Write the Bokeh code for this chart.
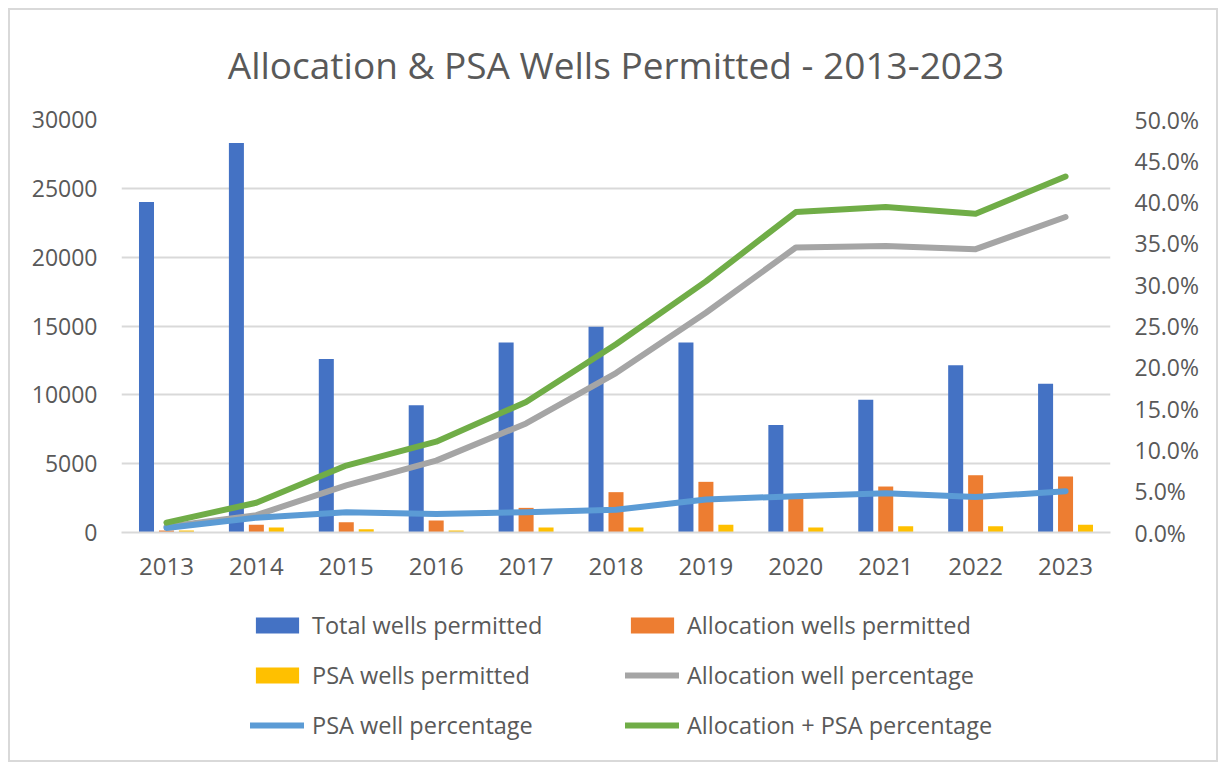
from bokeh.plotting import figure
from bokeh.layouts import column
from bokeh.models import (ColumnDataSource, Range1d, FactorRange, LinearAxis, FixedTicker,
                          NumeralTickFormatter, Legend, LegendItem)
from bokeh.transform import dodge
from bokeh.embed import file_html
from bokeh.resources import INLINE

years = ["2013", "2014", "2015", "2016", "2017", "2018", "2019", "2020", "2021", "2022", "2023"]
total_wells = [24000, 28300, 12600, 9250, 13800, 14950, 13800, 7800, 9650, 12150, 10800]
allocation_wells = [150, 560, 750, 870, 1790, 2930, 3680, 2600, 3340, 4160, 4070]
psa_wells = [150, 360, 240, 150, 360, 360, 560, 360, 460, 460, 560]
allocation_pct = [0.7, 2.1, 5.7, 8.7, 13.2, 19.3, 26.6, 34.5, 34.7, 34.3, 38.2]
psa_pct = [0.55, 1.8, 2.45, 2.25, 2.45, 2.75, 4.0, 4.4, 4.75, 4.3, 5.0]
combined_pct = [1.2, 3.6, 8.1, 11.0, 15.8, 22.8, 30.4, 38.8, 39.4, 38.6, 43.1]

left_ticks = [0, 5000, 10000, 15000, 20000, 25000, 30000]
right_ticks = [0.0, 0.05, 0.10, 0.15, 0.20, 0.25, 0.30, 0.35, 0.40, 0.45, 0.50]

FONT = "Open Sans"
TXT = "#595959"
GRID = "#D9D9D9"
C_TOTAL, C_ALLOC, C_PSA = "#4472C4", "#ED7D31", "#FFC000"
C_APCT, C_PPCT, C_CPCT = "#A5A5A5", "#5B9BD5", "#70AD47"

src = ColumnDataSource(dict(
    year=years, total=total_wells, alloc=allocation_wells, psa=psa_wells,
    alloc_pct=[v / 100 for v in allocation_pct],
    psa_pct=[v / 100 for v in psa_pct],
    comb_pct=[v / 100 for v in combined_pct],
))

W = 1206
BW = 0.167
LW = 6


def draw_series(fig):
    rs = {}
    rs["total"] = fig.vbar(x=dodge("year", -0.222, range=fig.x_range), top="total", width=BW,
                           source=src, fill_color=C_TOTAL, line_color=None)
    rs["alloc"] = fig.vbar(x=dodge("year", 0.0, range=fig.x_range), top="alloc", width=BW,
                           source=src, fill_color=C_ALLOC, line_color=None)
    rs["psa"] = fig.vbar(x=dodge("year", 0.222, range=fig.x_range), top="psa", width=BW,
                         source=src, fill_color=C_PSA, line_color=None)
    for col, c in (("alloc_pct", C_APCT), ("psa_pct", C_PPCT), ("comb_pct", C_CPCT)):
        rs[col] = fig.line("year", col, source=src, y_range_name="pct", line_color=c,
                           line_width=LW, line_cap="round", line_join="round")
    return rs


p = figure(width=W, height=582, x_range=FactorRange(*years), y_range=Range1d(0, 30000),
           output_backend="svg", toolbar_location=None,
           min_border_left=111, min_border_right=106, min_border_top=109, min_border_bottom=60)
p.extra_y_ranges = {"pct": Range1d(0, 0.5)}

p.title.text = "Allocation & PSA Wells Permitted - 2013-2023"
p.title.align = "center"
p.title.vertical_align = "top"
p.title.text_font = FONT
p.title.text_font_size = "37px"
p.title.text_font_style = "normal"
p.title.text_color = TXT
p.title.standoff = 56

p.outline_line_color = None
p.xgrid.grid_line_color = None
p.ygrid.grid_line_color = GRID
p.ygrid.grid_line_width = 2

draw_series(p)

# axes
xa = p.xaxis[0]
xa.axis_line_color = GRID
xa.axis_line_width = 2
xa.major_tick_line_color = None
xa.minor_tick_line_color = None
xa.major_tick_out = 0
xa.major_label_standoff = 25
xa.major_label_text_font = FONT
xa.major_label_text_font_size = "24px"
xa.major_label_text_color = TXT

ya = p.yaxis[0]
ya.ticker = FixedTicker(ticks=left_ticks)
ya.axis_line_color = None
ya.major_tick_line_color = None
ya.minor_tick_line_color = None
ya.major_tick_out = 0
ya.major_label_standoff = 24
ya.major_label_text_font = FONT
ya.major_label_text_font_size = "23px"
ya.major_label_text_color = TXT

ra = LinearAxis(y_range_name="pct", ticker=FixedTicker(ticks=right_ticks),
                formatter=NumeralTickFormatter(format="0.0%"))
ra.axis_line_color = None
ra.major_tick_line_color = None
ra.minor_tick_line_color = None
ra.major_tick_out = 0
ra.major_label_standoff = 24
ra.major_label_text_font = FONT
ra.major_label_text_font_size = "23px"
ra.major_label_text_color = TXT
p.add_layout(ra, "right")

# legend panel: a second figure whose (hidden) series only serve as legend swatches
q = figure(width=W, height=168, x_range=FactorRange(*years), y_range=Range1d(-2, -1),
           output_backend="svg", toolbar_location=None,
           x_axis_type=None, y_axis_type=None,
           min_border_left=0, min_border_right=0, min_border_top=0, min_border_bottom=0)
q.extra_y_ranges = {"pct": Range1d(-2, -1)}
q.outline_line_color = None
q.grid.visible = False
g = draw_series(q)
for r in g.values():
    r.visible = False

legend = Legend(items=[
    LegendItem(label="Total wells permitted", renderers=[g["total"]]),
    LegendItem(label="PSA wells permitted", renderers=[g["psa"]]),
    LegendItem(label="PSA well percentage", renderers=[g["psa_pct"]]),
    LegendItem(label="Allocation wells permitted", renderers=[g["alloc"]]),
    LegendItem(label="Allocation well percentage", renderers=[g["alloc_pct"]]),
    LegendItem(label="Allocation + PSA percentage", renderers=[g["comb_pct"]]),
], location=(129, 19), orientation="vertical", ncols=2)
legend.glyph_width = 54
legend.glyph_height = 20
legend.label_height = 20
legend.label_width = 295
legend.spacing = 18
legend.padding = 0
legend.margin = 0
legend.label_standoff = 8
legend.border_line_color = None
legend.background_fill_alpha = 0
legend.inactive_fill_alpha = 0
legend.label_text_font = FONT
legend.label_text_font_size = "23.5px"
legend.label_text_color = TXT
q.add_layout(legend, "center")

layout = column(p, q, spacing=0,
                styles={"border": "2px solid #D9D9D9", "margin-left": "8px", "margin-top": "8px",
                        "background-color": "white"})

open("out.html", "w").write(file_html(layout, INLINE))
